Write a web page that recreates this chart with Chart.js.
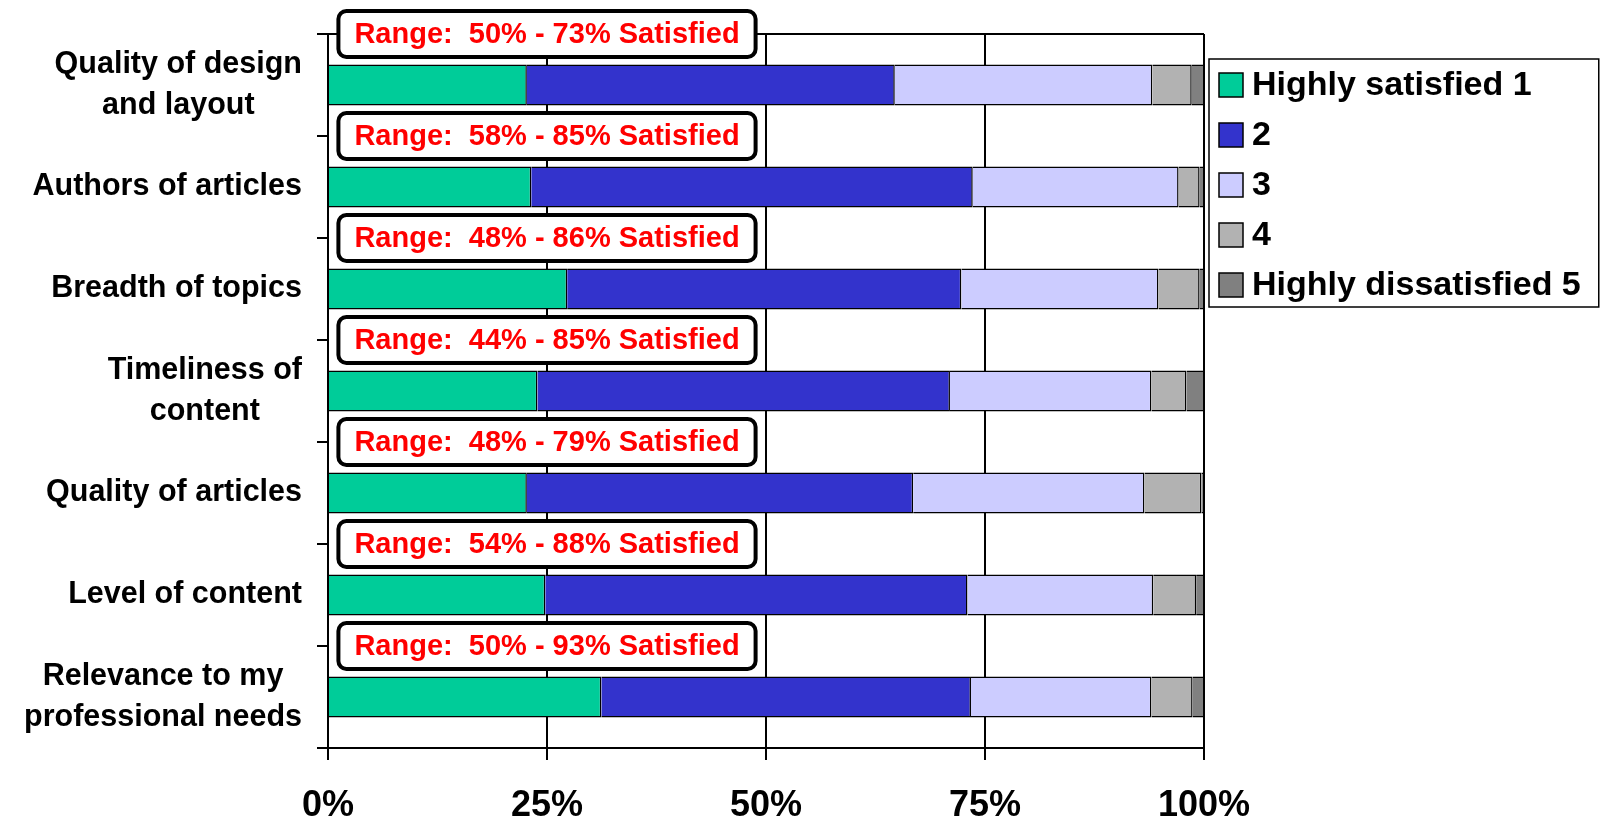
<!DOCTYPE html>
<html lang="en">
<head>
    <meta charset="UTF-8">
    <title>Satisfaction Ratings</title>
    <script src="https://cdn.jsdelivr.net/npm/chart.js"></script>
    <style>
        html, body {
            margin: 0;
            padding: 0;
            background-color: white;
        }
        .chart-container {
            position: relative;
            width: 1600px;
            height: 819px;
        }
    </style>
</head>
<body>
    <div class="chart-container">
        <canvas id="ratingChart"></canvas>
    </div>

    <script>
        // Data
        const categories = [
            ['Quality of design', 'and layout'],
            'Authors of articles',
            'Breadth of topics',
            ['Timeliness of', 'content'],
            'Quality of articles',
            'Level of content',
            ['Relevance to my', 'professional needs']
        ];
        const rangeLabels = [
            'Range:  50% - 73% Satisfied',
            'Range:  58% - 85% Satisfied',
            'Range:  48% - 86% Satisfied',
            'Range:  44% - 85% Satisfied',
            'Range:  48% - 79% Satisfied',
            'Range:  54% - 88% Satisfied',
            'Range:  50% - 93% Satisfied'
        ];
        const seriesNames = ['Highly satisfied 1', '2', '3', '4', 'Highly dissatisfied 5'];
        const highlySatisfied = [22.7, 23.2, 27.3, 23.9, 22.7, 24.8, 31.2];
        const rating2 = [42.0, 50.4, 45.0, 47.1, 44.1, 48.2, 42.2];
        const rating3 = [29.4, 23.5, 22.5, 23.0, 26.4, 21.2, 20.6];
        const rating4 = [4.5, 2.4, 4.7, 4.0, 6.5, 4.9, 4.7];
        const highlyDissatisfied = [1.4, 0.5, 0.5, 2.0, 0.3, 0.9, 1.3];
        const xTicks = [0, 25, 50, 75, 100];

        const colors = ['#00CC99', '#3333CC', '#CCCCFF', '#B2B2B2', '#808080'];
        const FONT = "'Liberation Sans', Arial, sans-serif";

        // frame, category labels, range boxes and boxed legend
        const extras = {
            id: 'extras',
            afterDraw(chart) {
                const ctx = chart.ctx;
                const area = chart.chartArea;
                const x = chart.scales.x;
                const y = chart.scales.y;
                const band = (y.getPixelForValue(1) - y.getPixelForValue(0));

                ctx.save();
                // top edge of the plot frame
                ctx.strokeStyle = '#000';
                ctx.lineWidth = 2;
                ctx.beginPath();
                ctx.moveTo(area.left - 11, area.top);
                ctx.lineTo(area.right, area.top);
                ctx.stroke();

                // category labels (lines centred on each other, block right aligned)
                ctx.font = 'bold 30.5px ' + FONT;
                ctx.fillStyle = '#000';
                ctx.textBaseline = 'middle';
                ctx.textAlign = 'center';
                categories.forEach(function(lab, i) {
                    const lines = Array.isArray(lab) ? lab : [lab];
                    const w = Math.max.apply(null, lines.map(function(l) { return ctx.measureText(l).width; }));
                    const cx = area.left - 26 - w / 2;
                    const cy = y.getPixelForValue(i);
                    const lh = 41;
                    lines.forEach(function(l, j) {
                        ctx.fillText(l, cx, cy + (j - (lines.length - 1) / 2) * lh);
                    });
                });

                // range boxes, centred on 25% and on the top edge of each band
                ctx.font = 'bold 29px ' + FONT;
                rangeLabels.forEach(function(txt, i) {
                    const cx = x.getPixelForValue(25);
                    const cy = y.getPixelForValue(i) - band / 2;
                    const tw = ctx.measureText(txt).width;
                    const w = tw + 32;
                    const h = 46;
                    ctx.beginPath();
                    ctx.roundRect(cx - w / 2, cy - h / 2, w, h, 8);
                    ctx.fillStyle = '#fff';
                    ctx.fill();
                    ctx.lineWidth = 4;
                    ctx.strokeStyle = '#000';
                    ctx.stroke();
                    ctx.fillStyle = '#FF0000';
                    ctx.textAlign = 'center';
                    ctx.fillText(txt, cx, cy + 1);
                });

                // legend
                ctx.font = 'bold 34px ' + FONT;
                const lw = Math.max.apply(null, seriesNames.map(function(s) { return ctx.measureText(s).width; }));
                const lx = area.right + 5;
                const ly = area.top + 25;
                const lwBox = 43 + lw + 18;
                const lhBox = 248;
                ctx.fillStyle = '#fff';
                ctx.fillRect(lx, ly, lwBox, lhBox);
                ctx.lineWidth = 1.5;
                ctx.strokeStyle = '#000';
                ctx.strokeRect(lx, ly, lwBox, lhBox);
                chart.data.datasets.forEach(function(ds, i) {
                    const sy = ly + 14 + i * 50;
                    ctx.fillStyle = ds.backgroundColor;
                    ctx.fillRect(lx + 10, sy, 24, 24);
                    ctx.lineWidth = 1.5;
                    ctx.strokeStyle = '#000';
                    ctx.strokeRect(lx + 10, sy, 24, 24);
                    ctx.fillStyle = '#000';
                    ctx.textAlign = 'left';
                    ctx.textBaseline = 'middle';
                    ctx.fillText(ds.label, lx + 43, sy + 13);
                });
                ctx.restore();
            }
        };

        const seriesData = [highlySatisfied, rating2, rating3, rating4, highlyDissatisfied];

        const ctx = document.getElementById('ratingChart').getContext('2d');
        const chart = new Chart(ctx, {
            type: 'bar',
            data: {
                labels: categories,
                datasets: seriesData.map(function(d, i) {
                    return {
                        label: seriesNames[i],
                        data: d,
                        backgroundColor: colors[i],
                        borderColor: '#000',
                        borderWidth: 1.5,
                        categoryPercentage: 0.4,
                        barPercentage: 1.0
                    };
                })
            },
            options: {
                indexAxis: 'y',
                responsive: true,
                maintainAspectRatio: false,
                animation: false,
                devicePixelRatio: 1,
                layout: {
                    padding: { top: 34, right: 396, left: 0, bottom: 0 }
                },
                scales: {
                    x: {
                        stacked: true,
                        min: 0,
                        max: 100,
                        afterBuildTicks: function(scale) {
                            scale.ticks = xTicks.map(function(v) { return { value: v }; });
                        },
                        afterFit: function(scale) { scale.height = 71; },
                        grid: {
                            color: '#000',
                            lineWidth: 2,
                            tickLength: 12
                        },
                        border: { display: true, color: '#000', width: 2 },
                        ticks: {
                            padding: 24,
                            color: '#000',
                            font: { family: FONT, size: 36, weight: 'bold' },
                            callback: function(v) { return v + '%'; }
                        }
                    },
                    y: {
                        stacked: true,
                        afterFit: function(scale) { scale.width = 328; },
                        grid: {
                            offset: true,
                            drawOnChartArea: false,
                            color: '#000',
                            lineWidth: 2,
                            tickLength: 11
                        },
                        border: { display: true, color: '#000', width: 2 },
                        ticks: { display: false }
                    }
                },
                plugins: {
                    legend: { display: false },
                    tooltip: { enabled: false }
                }
            },
            plugins: [extras]
        });
    </script>
</body>
</html>
